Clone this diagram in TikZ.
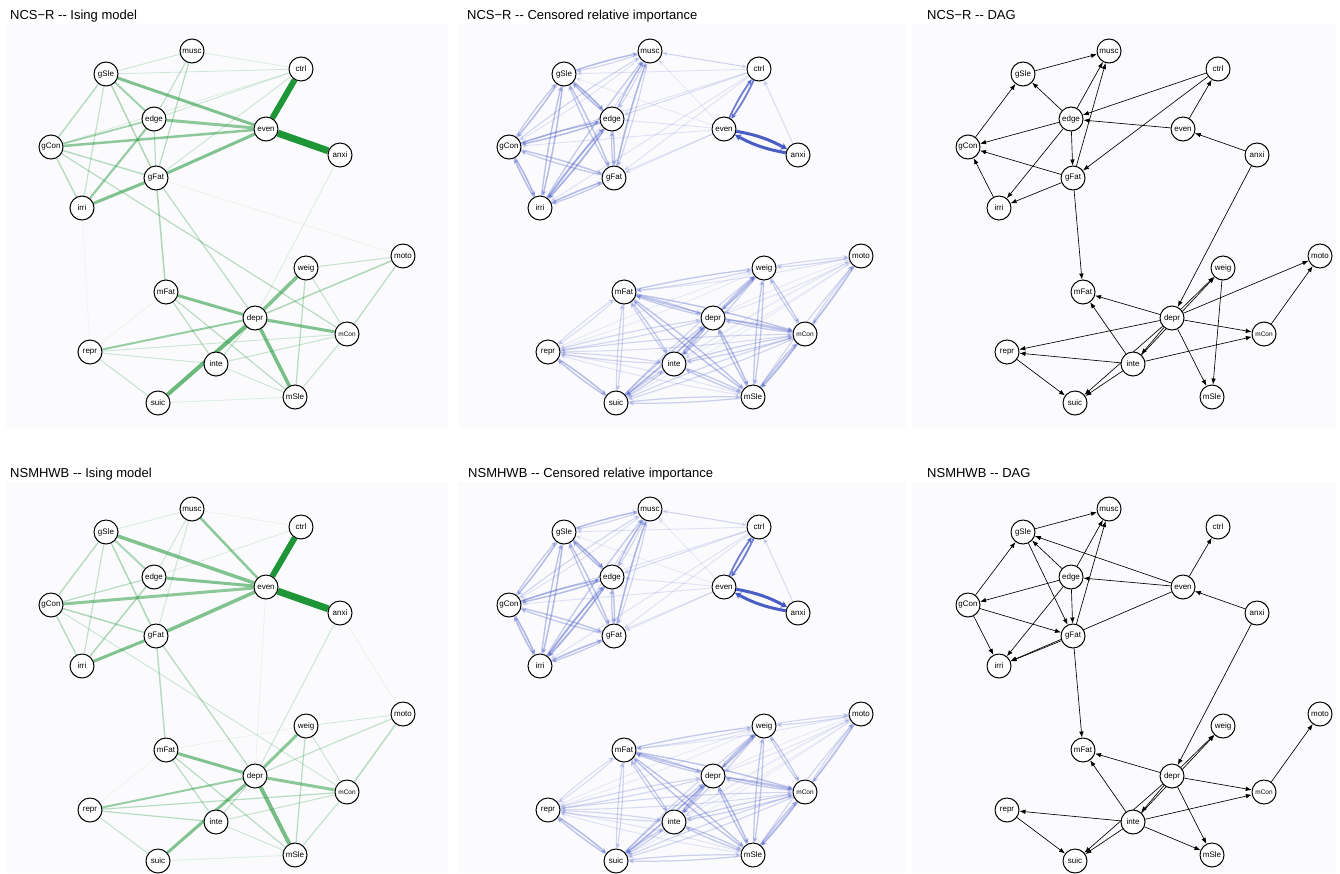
\documentclass[tikz,border=0pt]{standalone}
\usepackage{fontspec}
\setmainfont{Liberation Sans}
\usetikzlibrary{arrows.meta}
\pgfdeclarelayer{back}\pgfdeclarelayer{edges}
\pgfsetlayers{back,edges,main}
\definecolor{isg}{RGB}{30,150,55}
\definecolor{isr}{RGB}{220,80,80}
\definecolor{crib}{RGB}{65,85,195}
\definecolor{panelbg}{RGB}{251,251,253}
\tikzset{
  nd/.style={circle, draw=black, line width=1pt, fill=white, minimum size=24pt, inner sep=0pt},
  dag/.style={draw=black, line width=0.65pt, -{Latex[length=6pt,width=4.5pt]}},
  cri/.style={draw=crib, -{Stealth[length=5.5pt,width=5pt]}},
  ttl/.style={anchor=base west, font=\fontsize{13}{15}\selectfont, inner sep=0pt},
}
\def\nodelist{musc/192/51/8, ctrl/301/69/8, gSle/106/74/8, edge/154/119/8, even/266/129/8, gCon/51/147/8, anxi/340/155/8, gFat/156/178/8, irri/82/208/8, moto/403/256/8, weig/306/268/8, mFat/166/292/8, depr/255/318/8, mCon/347/334/6.5, repr/90/352/8, inte/216/364/8, suic/158/403/8, mSle/295/397/8}
\newcommand\placenodes[3]{\foreach \n/\x/\y/\f in \nodelist {\node[nd,font=\fontsize{\f}{\f}\selectfont] (#1-\n) at (\x+#2,\y+#3) {\n};}}
\newcommand\drawising[2]{\foreach \na/\nb/\w/\op in #2 {\draw[line width=\w pt, draw=isg, draw opacity=\op] (#1-\na) -- (#1-\nb);}}
\newcommand\drawdag[2]{\foreach \na/\nb in #2 {\draw[dag] (#1-\na) -- (#1-\nb);}}
\newcommand\drawcripairs[2]{\foreach \na/\nb/\op/\oq in #2 {%
  \pgfmathsetmacro\lwa{0.6+1.8*\op}\pgfmathsetmacro\lwb{0.6+1.8*\oq}%
  \pgfmathsetmacro\opa{0.75*\op}\pgfmathsetmacro\opb{0.75*\oq}%
  \draw[cri, line width=\lwa pt, opacity=\opa, bend left=3] (#1-\na) to (#1-\nb);
  \draw[cri, line width=\lwb pt, opacity=\opb, bend left=3] (#1-\nb) to (#1-\na);}}
\newcommand\drawcrione[2]{\foreach \na/\nb/\op in #2 {%
  \pgfmathsetmacro\lwa{0.6+1.8*\op}\pgfmathsetmacro\opa{0.75*\op}%
  \draw[cri, line width=\lwa pt, opacity=\opa] (#1-\na) -- (#1-\nb);}}
\def\isingA{ctrl/even/6/1, even/anxi/7/1, gSle/even/3/0.55, edge/even/3/0.5, gCon/even/2.5/0.5, gFat/even/3/0.55, gFat/irri/3/0.55, edge/irri/2.2/0.45, gCon/edge/1.8/0.4, gSle/gCon/1.5/0.3, gSle/edge/2/0.4, gSle/gFat/1.5/0.35, gSle/irri/1.2/0.25, gCon/irri/1.5/0.3, gCon/gFat/1.5/0.3, edge/gFat/1.2/0.3, musc/gSle/1/0.2, musc/edge/1.2/0.25, musc/gFat/1.2/0.3, musc/ctrl/0.8/0.15, ctrl/gSle/0.8/0.2, ctrl/edge/1/0.2, ctrl/gFat/1/0.2, ctrl/gCon/0.8/0.15, gFat/mFat/1.5/0.35, gFat/depr/1.2/0.3, gCon/mCon/1.2/0.3, anxi/depr/0.8/0.15, irri/repr/0.5/0.08, weig/depr/3.5/0.55, mFat/depr/3/0.55, depr/mCon/3/0.55, depr/mSle/3.5/0.6, suic/depr/4/0.65, repr/depr/2/0.45, depr/moto/1.5/0.35, weig/moto/1/0.25, weig/mSle/1.2/0.3, weig/mCon/1/0.25, moto/mCon/1.2/0.3, mCon/mSle/1/0.25, mFat/inte/1.2/0.3, mFat/mSle/1.2/0.3, inte/depr/1/0.25, inte/mCon/1/0.25, repr/inte/1/0.2, repr/suic/1/0.25, repr/mCon/1/0.2, suic/mSle/0.8/0.15, inte/mSle/1/0.2, repr/mFat/0.6/0.1}
\def\isingB{ctrl/even/6/1, even/anxi/7/1, gSle/even/3.5/0.55, edge/even/3/0.55, gCon/even/3/0.5, gFat/even/3.5/0.55, musc/even/2.5/0.5, gFat/irri/3/0.55, edge/irri/1.5/0.35, gCon/edge/1.2/0.3, gSle/gCon/1.5/0.3, gSle/edge/2/0.35, gSle/gFat/1.5/0.35, gSle/irri/1.2/0.25, gCon/irri/1.5/0.3, gCon/gFat/1.5/0.35, musc/gSle/0.8/0.15, musc/edge/1/0.2, musc/gFat/1/0.2, musc/ctrl/0.6/0.1, ctrl/edge/0.8/0.15, gFat/mFat/1.5/0.3, gFat/depr/1.3/0.3, gCon/mCon/1/0.2, anxi/depr/1/0.2, anxi/moto/0.6/0.1, even/depr/0.6/0.1, weig/depr/3/0.5, mFat/depr/3/0.55, depr/mCon/3/0.5, depr/mSle/4/0.6, suic/depr/3/0.55, repr/depr/2/0.45, depr/moto/1.2/0.25, weig/moto/0.8/0.2, weig/mSle/1.2/0.3, weig/mCon/1/0.2, moto/mCon/1.5/0.3, mCon/mSle/1.2/0.25, mFat/inte/1.2/0.3, mFat/mSle/1.2/0.3, inte/depr/1/0.25, inte/mCon/1/0.25, repr/inte/1.2/0.3, repr/suic/1/0.25, repr/mCon/1.2/0.3, suic/mSle/0.8/0.15, inte/mSle/1/0.2, repr/mFat/0.5/0.08, mFat/weig/0.6/0.1}
\def\critop{gSle/musc/0.5/0.3, gSle/edge/0.6/0.5, gSle/gCon/0.5/0.4, gSle/gFat/0.45/0.4, gSle/irri/0.5/0.45, musc/edge/0.3/0.45, musc/gCon/0.2/0.3, musc/gFat/0.3/0.55, musc/irri/0.25/0.4, edge/gCon/0.5/0.55, edge/gFat/0.45/0.4, edge/irri/0.6/0.6, gCon/gFat/0.45/0.4, gCon/irri/0.55/0.5, gFat/irri/0.4/0.45}
\def\crilow{moto/weig/0.3/0.2, moto/mFat/0.2/0.15, moto/depr/0.2/0.15, moto/mCon/0.35/0.3, moto/inte/0.15/0.15, moto/suic/0.15/0.1, moto/mSle/0.35/0.3, weig/mFat/0.3/0.35, weig/depr/0.4/0.4, weig/mCon/0.4/0.35, weig/repr/0.15/0.15, weig/inte/0.35/0.3, weig/suic/0.3/0.3, weig/mSle/0.4/0.4, mFat/depr/0.4/0.4, mFat/mCon/0.45/0.4, mFat/repr/0.25/0.25, mFat/inte/0.4/0.35, mFat/suic/0.3/0.3, mFat/mSle/0.45/0.45, depr/mCon/0.45/0.4, depr/repr/0.3/0.3, depr/inte/0.4/0.4, depr/suic/0.45/0.4, depr/mSle/0.5/0.45, mCon/repr/0.25/0.3, mCon/inte/0.35/0.35, mCon/suic/0.3/0.3, mCon/mSle/0.45/0.45, repr/inte/0.3/0.3, repr/suic/0.5/0.45, repr/mSle/0.2/0.2, inte/suic/0.35/0.35, inte/mSle/0.4/0.4, suic/mSle/0.35/0.35}
\def\cricross{ctrl/musc/0.2, ctrl/gSle/0.2, ctrl/edge/0.25, ctrl/gCon/0.2, ctrl/gFat/0.2, ctrl/irri/0.2, even/gSle/0.15, even/edge/0.2, even/gCon/0.2, even/gFat/0.2, even/irri/0.2, even/musc/0.15, musc/ctrl/0.15, anxi/ctrl/0.25}
\def\dagA{gSle/musc, edge/gSle, edge/musc, gFat/musc, ctrl/edge, ctrl/gFat, even/ctrl, even/edge, anxi/even, gCon/gSle, edge/gCon, edge/gFat, edge/irri, gFat/gCon, gFat/irri, irri/gCon, gFat/mFat, anxi/depr, depr/mFat, inte/mFat, depr/weig, inte/weig, depr/inte, depr/suic, depr/repr, depr/mCon, depr/moto, depr/mSle, weig/mSle, mCon/moto, inte/mCon, inte/repr, inte/suic, repr/suic}
\def\dagB{gSle/musc, edge/gSle, edge/musc, gFat/musc, even/gSle, even/edge, even/ctrl, even/irri, anxi/even, anxi/depr, gCon/gSle, edge/gCon, edge/gFat, edge/irri, gSle/gFat, gCon/gFat, gCon/irri, gFat/irri, gFat/mFat, depr/mFat, inte/mFat, depr/weig, inte/weig, depr/inte, depr/suic, depr/mCon, depr/mSle, inte/mCon, inte/mSle, inte/repr, inte/suic, repr/suic, mCon/moto}
\newcommand\drawcri[1]{%
  \drawcripairs{#1}{\critop}
  \drawcripairs{#1}{\crilow}
  \drawcrione{#1}{\cricross}
  \draw[cri, line width=1.8pt, opacity=0.75, bend left=5] (#1-ctrl) to (#1-even);
  \draw[cri, line width=1.8pt, opacity=0.75, bend left=5] (#1-even) to (#1-ctrl);
  \draw[cri, line width=3pt, opacity=0.95, bend left=9, -{Stealth[length=6pt,width=7pt]}] (#1-even) to (#1-anxi);
  \draw[cri, line width=3pt, opacity=0.95, bend left=9, -{Stealth[length=6pt,width=7pt]}] (#1-anxi) to (#1-even);
}
\begin{document}
\begin{tikzpicture}[x=1pt,y=-1pt]
\useasboundingbox (0,0) rectangle (1340,873);
\begin{pgfonlayer}{back}
\fill[white] (0,0) rectangle (1340,873);
\foreach \px/\pw in {6/442,458/448,912/424}{
  \foreach \py/\ph in {24/404,482/391}{
    \fill[panelbg] (\px,\py) rectangle (\px+\pw,\py+\ph);
  }
}
\end{pgfonlayer}
\node[ttl] (t1) at (10,19) {NCS−R -{}- Ising model};
\node[ttl] (t2) at (467,19) {NCS−R -{}- Censored relative importance};
\node[ttl] (t3) at (927,19) {NCS−R -{}- DAG};
\node[ttl] (t4) at (10,477) {NSMHWB -{}- Ising model};
\node[ttl] (t5) at (468,477) {NSMHWB -{}- Censored relative importance};
\node[ttl] (t6) at (927,477) {NSMHWB -{}- DAG};
\placenodes{a}{0}{0}
\placenodes{b}{458}{0}
\placenodes{c}{917}{0}
\placenodes{d}{0}{458}
\placenodes{e}{458}{458}
\placenodes{f}{917}{458}
\begin{pgfonlayer}{edges}
\drawising{a}{\isingA}
\draw[line width=1pt, draw=isr, draw opacity=0.08] (a-gFat) -- (a-moto);
\drawising{d}{\isingB}
\drawcri{b}
\drawcri{e}
\drawdag{c}{\dagA}
\drawdag{f}{\dagB}
\end{pgfonlayer}
\end{tikzpicture}
\end{document}
